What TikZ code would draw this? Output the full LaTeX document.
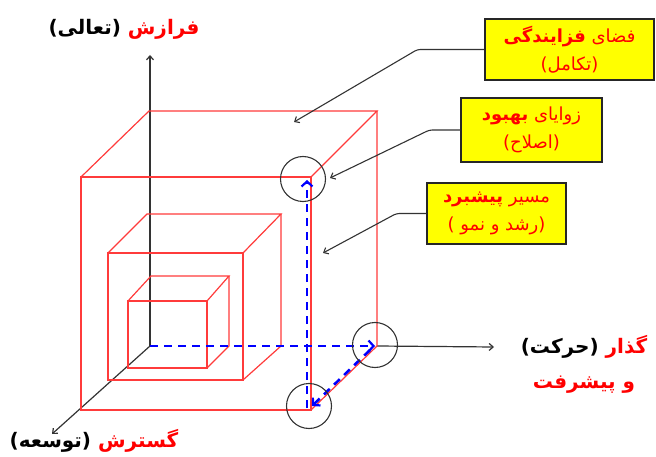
\documentclass[tikz,border=0pt]{standalone}
\usepackage{fontspec}
\usetikzlibrary{arrows.meta}
\newfontfamily\arabicfont[Script=Arabic]{DejaVu Sans}
\newfontfamily\arabicred[Script=Arabic,Color=FF0000]{DejaVu Sans}
\TeXXeTstate=1
\definecolor{cubered}{HTML}{FF3B3B}
\definecolor{pathblue}{HTML}{0000FF}
\definecolor{linegray}{HTML}{333333}
\definecolor{boxyellow}{HTML}{FFFF00}
\definecolor{txtred}{HTML}{FF0000}
\begin{document}
\begin{tikzpicture}[x=1pt,y=-1pt,
  cube/.style={draw=cubered,line width=1.2pt,line join=miter},
  axisline/.style={draw=linegray,line width=1.2pt,-{Straight Barb[length=4pt,width=7pt]}},
  conn/.style={draw=linegray,line width=1.1pt,rounded corners=3pt,-{Straight Barb[length=4pt,width=7pt]}},
  bluepath/.style={draw=pathblue,line width=2.6pt,dash pattern=on 8pt off 6pt,-{Straight Barb[length=5pt,width=11pt,line width=2.2pt]}},
  ring/.style={draw=linegray,line width=1.1pt,circle,minimum size=45pt,inner sep=0pt},
  ybox/.style={draw=black!85,line width=1.2pt,fill=boxyellow,align=center,inner sep=0pt,font=\arabicred\fontsize{18}{28}\selectfont},
  axlabel/.style={align=center,inner sep=0pt,font=\arabicfont\bfseries\fontsize{20}{35}\selectfont}]
\useasboundingbox (0,0) rectangle (656,457);

% corners
\coordinate (O) at (150,346);
% big cube
\coordinate (Aftl) at (81,177);  \coordinate (Aftr) at (311,177);
\coordinate (Afbl) at (81,410);  \coordinate (Afbr) at (311,410);
\coordinate (Abtl) at (149,111); \coordinate (Abtr) at (377,111);
\coordinate (Abbr) at (377,346);
% middle cube
\coordinate (Bftl) at (108,253); \coordinate (Bftr) at (243,253);
\coordinate (Bfbl) at (108,380); \coordinate (Bfbr) at (243,380);
\coordinate (Bbtl) at (147,214); \coordinate (Bbtr) at (281,214);
\coordinate (Bbbr) at (281,346);
% small cube
\coordinate (Cftl) at (128,301); \coordinate (Cftr) at (207,301);
\coordinate (Cfbl) at (128,368); \coordinate (Cfbr) at (207,368);
\coordinate (Cbtl) at (151,276); \coordinate (Cbtr) at (229,276);
\coordinate (Cbbr) at (229,346);

% axes
\coordinate (ytip) at (150,55);
\coordinate (xtip) at (494,347);
\coordinate (ztip) at (52,434);
\draw[axisline] (O) -- (ytip);
\draw[axisline] (Abbr) -- (xtip);
\draw[axisline] (O) -- (ztip);

% cubes
\draw[cube] (Aftl) rectangle (Afbr);
\draw[cube] (Aftl) -- (Abtl) -- (Abtr) -- (Aftr);
\draw[cube] (Abtr) -- (Abbr) -- (Afbr);
\draw[cube] (Bftl) rectangle (Bfbr);
\draw[cube] (Bftl) -- (Bbtl) -- (Bbtr) -- (Bftr);
\draw[cube] (Bbtr) -- (Bbbr) -- (Bfbr);
\draw[cube] (Cftl) rectangle (Cfbr);
\draw[cube] (Cftl) -- (Cbtl) -- (Cbtr) -- (Cftr);
\draw[cube] (Cbtr) -- (Cbbr) -- (Cfbr);

% blue path
\coordinate (p1) at (375,346);
\coordinate (p2s) at (370,350);
\coordinate (p2) at (312,406);
\coordinate (p3s) at (307,408);
\coordinate (p3) at (307,180);
\draw[bluepath] (O) -- (p1);
\draw[bluepath] (p2s) -- (p2);
\draw[bluepath] (p3s) -- (p3);

% rings
\node[ring] (r1) at (303,179) {};
\node[ring] (r2) at (375,345) {};
\node[ring] (r3) at (309,406) {};

% boxes
\node[ybox,minimum width=169pt,minimum height=61pt] (b1) at (569.5,49.5)
  {\beginR فضای {\bfseries فزایندگی}\endR\\\beginR(تکامل)\endR};
\node[ybox,minimum width=141pt,minimum height=64pt] (b2) at (531.5,130)
  {\beginR زوایای {\bfseries بهبود}\endR\\\beginR(اصلاح)\endR};
\node[ybox,minimum width=139pt,minimum height=61pt] (b3) at (496.5,213.5)
  {\beginR مسیر {\bfseries پیشبرد}\endR\\\beginR(رشد و نمو )\endR};

% connectors
\coordinate (t1) at (294,122);
\coordinate (t2) at (330,178);
\coordinate (t3) at (323,253);
\draw[conn] (b1.west) -- ++(-67,0) -- (t1);
\draw[conn] (b2.west) -- ++(-31,0) -- (t2);
\draw[conn] (b3.west) -- ++(-30,0) -- (t3);

% axis labels
\node[axlabel] (lup) at (124,29)
  {\beginR{\arabicred\bfseries فرازش} (تعالی)\endR};
\node[axlabel] (ldown) at (94,441)
  {\beginR{\arabicred\bfseries گسترش} (توسعه)\endR};
\node[axlabel] (lright) at (584,364)
  {\beginR{\arabicred\bfseries گذار} (حرکت)\endR\\\beginR{\arabicred\bfseries و پیشرفت}\endR};
\end{tikzpicture}
\end{document}
